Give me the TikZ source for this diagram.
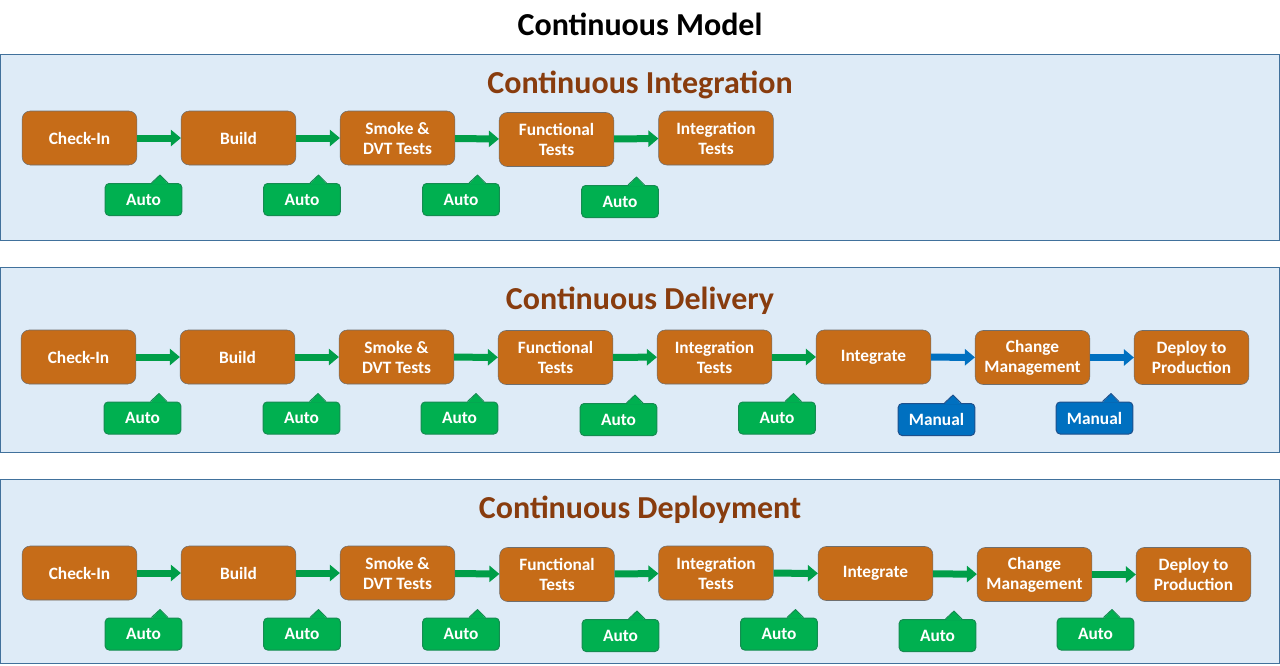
\documentclass[tikz,border=0pt]{standalone}
\usepackage{fontspec}
\setmainfont{Carlito}
\usetikzlibrary{arrows.meta}
\definecolor{panelfill}{RGB}{222,235,247}
\definecolor{paneldraw}{RGB}{65,113,156}
\definecolor{stepfill}{RGB}{198,108,24}
\definecolor{stepdraw}{RGB}{110,110,110}
\definecolor{autogreen}{RGB}{0,176,80}
\definecolor{autodraw}{RGB}{20,140,80}
\definecolor{manblue}{RGB}{0,112,192}
\definecolor{mandraw}{RGB}{30,80,140}
\definecolor{titlebrown}{RGB}{136,60,14}
% small pointer on top of a tag
\newcommand{\tagnotch}[3]{%
  \path[fill=#2] ([xshift=6pt,yshift=-0.8pt]#1.north) -- ([xshift=12.4pt,yshift=6pt]#1.north) -- ([xshift=18.4pt,yshift=-0.8pt]#1.north) -- cycle;
  \draw[#3,line width=0.75pt,line join=round] ([xshift=6pt]#1.north) -- ([xshift=12.4pt,yshift=6pt]#1.north) -- ([xshift=18.4pt]#1.north);}
\tikzset{
  panel/.style={fill=panelfill,draw=paneldraw,line width=0.75pt},
  heading/.style={font=\bfseries\fontsize{24}{28}\selectfont,text=titlebrown},
  stepbox/.style={draw=stepdraw,fill=stepfill,rounded corners=6pt,minimum width=86pt,minimum height=40.5pt,
    text=white,font=\bfseries\fontsize{13}{15}\selectfont,align=center,inner sep=0pt},
  tag/.style={rounded corners=3pt,minimum width=57.5pt,minimum height=24pt,inner sep=0pt,line width=0.75pt,
    text=white,font=\bfseries\fontsize{13}{15}\selectfont},
  auto/.style={tag,fill=autogreen,draw=autodraw},
  manual/.style={tag,fill=manblue,draw=mandraw},
  flow/.style={line width=5.25pt,draw=autogreen!90!black,-{Triangle[width=12pt,length=7.5pt]}},
  flowm/.style={flow,draw=manblue}
}
\begin{document}
\begin{tikzpicture}[x=0.75pt,y=-0.75pt]
  \useasboundingbox (0,0) rectangle (1280,665);
  \node[font=\bfseries\fontsize{24}{28}\selectfont] (title) at (640,24) {Continuous Model};
  % continuous integration
  \draw[panel] (0.5,54) rectangle (1279,240);
  \node[heading] (hI) at (640,85) {Continuous Integration};
  \node[stepbox] (I1) at (79.5,138) {Check-In};
  \node[stepbox] (I2) at (238.5,138) {Build};
  \node[stepbox] (I3) at (397.5,138) {Smoke \&\\DVT Tests};
  \node[stepbox] (I4) at (556.5,139.5) {Functional\\Tests};
  \node[stepbox] (I5) at (716,138) {Integration\\Tests};
  \draw[flow] (I1) -- (I2);
  \draw[flow] (I2) -- (I3);
  \draw[flow] (I3) -- (I4);
  \draw[flow] (I4) -- (I5);
  \node[auto] (TI1) at (143.5,199.5) {Auto};
  \node[auto] (TI2) at (302,199.5) {Auto};
  \node[auto] (TI3) at (461,199.5) {Auto};
  \node[auto] (TI4) at (620,201.5) {Auto};
  \tagnotch{TI1}{autogreen}{autodraw}
  \tagnotch{TI2}{autogreen}{autodraw}
  \tagnotch{TI3}{autogreen}{autodraw}
  \tagnotch{TI4}{autogreen}{autodraw}
  % continuous delivery
  \draw[panel] (0.5,267) rectangle (1279,452);
  \node[heading] (hD) at (640,301) {Continuous Delivery};
  \node[stepbox] (D1) at (78.5,357) {Check-In};
  \node[stepbox] (D2) at (237.5,357) {Build};
  \node[stepbox] (D3) at (396.5,357) {Smoke \&\\DVT Tests};
  \node[stepbox] (D4) at (555.5,357.5) {Functional\\Tests};
  \node[stepbox] (D5) at (714.5,357) {Integration\\Tests};
  \node[stepbox] (D6) at (873.5,357) {Integrate};
  \node[stepbox] (D7) at (1032.5,357.5) {Change\\Management};
  \node[stepbox] (D8) at (1191.5,357.5) {Deploy to\\Production};
  \draw[flow] (D1) -- (D2);
  \draw[flow] (D2) -- (D3);
  \draw[flow] (D3) -- (D4);
  \draw[flow] (D4) -- (D5);
  \draw[flow] (D5) -- (D6);
  \draw[flowm] (D6) -- (D7);
  \draw[flowm] (D7) -- (D8);
  \node[auto] (TD1) at (142.5,418) {Auto};
  \node[auto] (TD2) at (301.5,418) {Auto};
  \node[auto] (TD3) at (459.5,418) {Auto};
  \node[auto] (TD4) at (618.5,419.5) {Auto};
  \node[auto] (TD5) at (777,418) {Auto};
  \node[manual] (TD6) at (936.5,419.5) {Manual};
  \node[manual] (TD7) at (1094.5,418) {Manual};
  \tagnotch{TD1}{autogreen}{autodraw}
  \tagnotch{TD2}{autogreen}{autodraw}
  \tagnotch{TD3}{autogreen}{autodraw}
  \tagnotch{TD4}{autogreen}{autodraw}
  \tagnotch{TD5}{autogreen}{autodraw}
  \tagnotch{TD6}{manblue}{mandraw}
  \tagnotch{TD7}{manblue}{mandraw}
  % continuous deployment
  \draw[panel] (0.5,479) rectangle (1279,663);
  \node[heading] (hE) at (640,510) {Continuous Deployment};
  \node[stepbox] (E1) at (79.5,573) {Check-In};
  \node[stepbox] (E2) at (238.5,573) {Build};
  \node[stepbox] (E3) at (397.5,573) {Smoke \&\\DVT Tests};
  \node[stepbox] (E4) at (557,574.5) {Functional\\Tests};
  \node[stepbox] (E5) at (716,573) {Integration\\Tests};
  \node[stepbox] (E6) at (875.5,573.5) {Integrate};
  \node[stepbox] (E7) at (1034.5,574.5) {Change\\Management};
  \node[stepbox] (E8) at (1193.5,574.5) {Deploy to\\Production};
  \draw[flow] (E1) -- (E2);
  \draw[flow] (E2) -- (E3);
  \draw[flow] (E3) -- (E4);
  \draw[flow] (E4) -- (E5);
  \draw[flow] (E5) -- (E6);
  \draw[flow] (E6) -- (E7);
  \draw[flow] (E7) -- (E8);
  \node[auto] (TE1) at (143.5,634) {Auto};
  \node[auto] (TE2) at (302,634) {Auto};
  \node[auto] (TE3) at (461,634) {Auto};
  \node[auto] (TE4) at (620.5,635.5) {Auto};
  \node[auto] (TE5) at (779,634) {Auto};
  \node[auto] (TE6) at (937.5,635.5) {Auto};
  \node[auto] (TE7) at (1095.5,634) {Auto};
  \tagnotch{TE1}{autogreen}{autodraw}
  \tagnotch{TE2}{autogreen}{autodraw}
  \tagnotch{TE3}{autogreen}{autodraw}
  \tagnotch{TE4}{autogreen}{autodraw}
  \tagnotch{TE5}{autogreen}{autodraw}
  \tagnotch{TE6}{autogreen}{autodraw}
  \tagnotch{TE7}{autogreen}{autodraw}
\end{tikzpicture}
\end{document}
